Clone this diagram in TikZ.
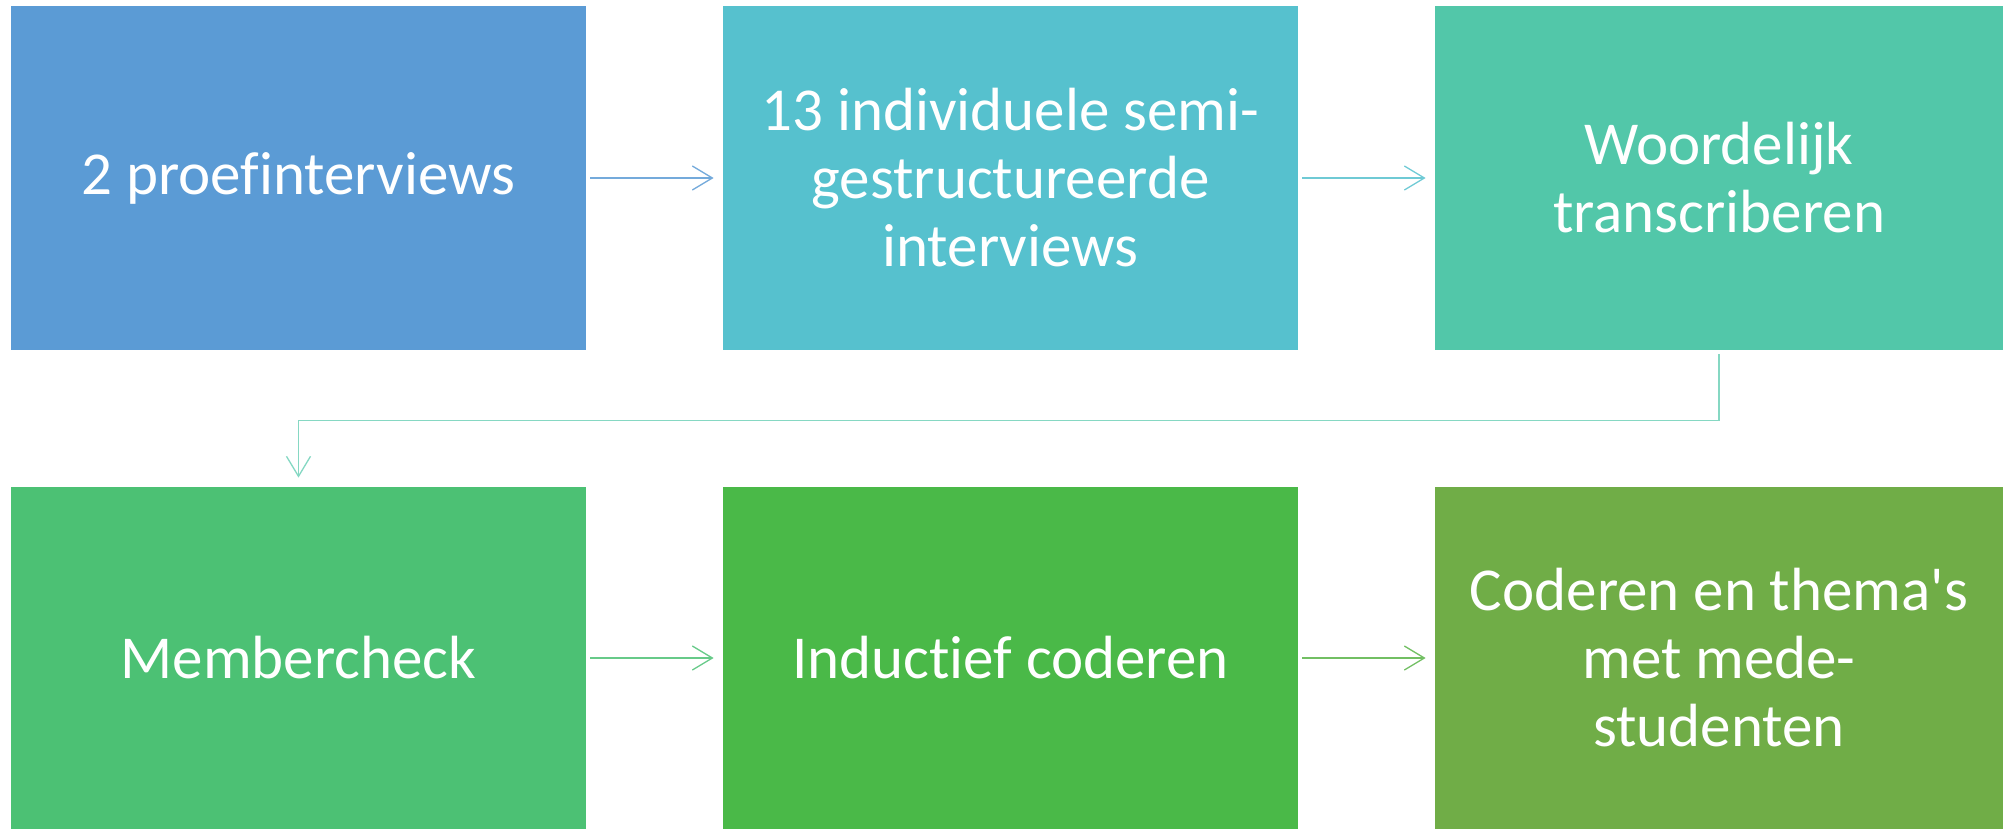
\documentclass[tikz,border=0pt]{standalone}
\usepackage{fontspec}
\setmainfont{Carlito}[Ligatures=NoCommon]
\usepackage{xcolor}
\usetikzlibrary{arrows.meta}

\definecolor{blauw}{HTML}{5B9BD5}
\definecolor{turkoois}{HTML}{56C1CE}
\definecolor{zeegroen}{HTML}{52C7A9}
\definecolor{lichtgroen}{HTML}{4CC174}
\definecolor{groen}{HTML}{4AB948}
\definecolor{olijf}{HTML}{70AD47}

\tikzset{
  stap/.style={rectangle, inner sep=0pt, minimum width=287.5pt, minimum height=172pt,
    align=center, text=white, font=\fontsize{30.5}{34}\selectfont},
  pijl/.style={line width=0.65pt, -{Straight Barb[length=10pt,width=12pt]},
    shorten <=2pt, shorten >=4.5pt}
}

\begin{document}
\begin{tikzpicture}[x=0.5pt,y=-0.5pt]
\useasboundingbox (0,0) rectangle (2003,829);
% bovenste rij
\node[stap, fill=blauw] (proef) at (298.5,178) {2 proefinterviews};
\node[stap, fill=turkoois] (indiv) at (1010.5,178) {13 individuele semi-\\gestructureerde\\interviews};
\node[stap, fill=zeegroen, minimum width=284pt] (transcr) at (1719,178) {Woordelijk\\transcriberen};
% onderste rij
\node[stap, fill=lichtgroen, minimum height=171pt] (member) at (298.5,658) {Membercheck};
\node[stap, fill=groen, minimum height=171pt] (induct) at (1010.5,658) {Inductief coderen};
\node[stap, fill=olijf, minimum width=284pt, minimum height=171pt] (medest) at (1719,658) {Coderen en thema\textquotesingle s\\met mede-\\studenten};
% pijlen
\draw[pijl, draw=blauw!85!white] (proef) -- (indiv);
\draw[pijl, draw=turkoois!85!white] (indiv) -- (transcr);
\draw[pijl, draw=zeegroen!70!white] (transcr.south) -- ++(0,70) -| (member.north);
\draw[pijl, draw=lichtgroen!85!white] (member) -- (induct);
\draw[pijl, draw=groen!60!olijf!85!white] (induct) -- (medest);
\end{tikzpicture}
\end{document}
